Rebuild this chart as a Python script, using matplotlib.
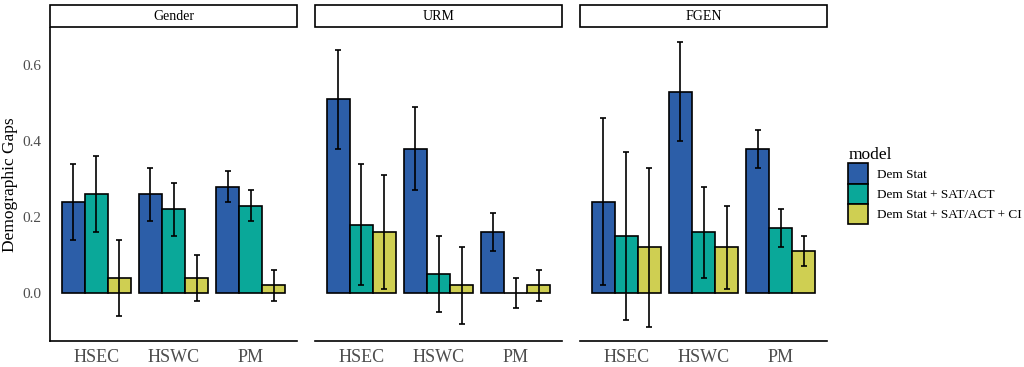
import matplotlib
matplotlib.use("Agg")
import matplotlib.pyplot as plt
import matplotlib.patches as mpatches
import numpy as np

plt.rcParams["font.family"] = ["Liberation Serif", "DejaVu Serif"]

panels = ["Gender", "URM", "FGEN"]
categories = ["HSEC", "HSWC", "PM"]
models = ["Dem Stat", "Dem Stat + SAT/ACT", "Dem Stat + SAT/ACT + CI"]
colors = ["#2C5EA8", "#0AA899", "#CFCF52"]

# gap estimates: [panel][model][category]
gender_vals = [[0.24, 0.26, 0.28], [0.26, 0.22, 0.23], [0.04, 0.04, 0.02]]
gender_lo = [[0.14, 0.19, 0.24], [0.16, 0.15, 0.19], [-0.06, -0.02, -0.02]]
gender_hi = [[0.34, 0.33, 0.32], [0.36, 0.29, 0.27], [0.14, 0.10, 0.06]]

urm_vals = [[0.51, 0.38, 0.16], [0.18, 0.05, 0.00], [0.16, 0.02, 0.02]]
urm_lo = [[0.38, 0.27, 0.11], [0.02, -0.05, -0.04], [0.01, -0.08, -0.02]]
urm_hi = [[0.64, 0.49, 0.21], [0.34, 0.15, 0.04], [0.31, 0.12, 0.06]]

fgen_vals = [[0.24, 0.53, 0.38], [0.15, 0.16, 0.17], [0.12, 0.12, 0.11]]
fgen_lo = [[0.02, 0.40, 0.33], [-0.07, 0.04, 0.12], [-0.09, 0.01, 0.07]]
fgen_hi = [[0.46, 0.66, 0.43], [0.37, 0.28, 0.22], [0.33, 0.23, 0.15]]

data = {
    "Gender": (gender_vals, gender_lo, gender_hi),
    "URM": (urm_vals, urm_lo, urm_hi),
    "FGEN": (fgen_vals, fgen_lo, fgen_hi),
}

W, H = 1024, 367
fig = plt.figure(figsize=(W / 100, H / 100), dpi=100)

lefts = [50, 315, 580]
pw = 247
top, bottom = 28, 341
x = np.arange(1, 4)
bw = 0.9 / 3

for k, (name, left) in enumerate(zip(panels, lefts)):
    ax = fig.add_axes([left / W, (H - bottom) / H, pw / W, (bottom - top) / H])
    vals, lo, hi = data[name]
    for m in range(3):
        xs = x + (m - 1) * bw
        v = np.array(vals[m])
        ax.bar(xs, v, width=bw, color=colors[m], edgecolor="black", linewidth=1.2, zorder=2)
        ax.errorbar(xs, v, yerr=[v - np.array(lo[m]), np.array(hi[m]) - v], fmt="none",
                    ecolor="black", elinewidth=1.2, capsize=2.5, capthick=1.2, zorder=3)
    ax.set_xlim(0.4, 3.6)
    ax.set_ylim(-0.126, 0.697)
    ax.set_xticks(x)
    ax.set_xticklabels(categories, fontsize=13, color="#4d4d4d")
    ax.tick_params(axis="both", length=0, pad=6)
    for s in ["top", "right"]:
        ax.spines[s].set_visible(False)
    ax.spines["bottom"].set_linewidth(1.2)
    if k == 0:
        ax.set_yticks([0.0, 0.2, 0.4, 0.6])
        ax.set_yticklabels(["0.0", "0.2", "0.4", "0.6"], fontsize=11, color="#4d4d4d")
        ax.spines["left"].set_linewidth(1.2)
        ax.set_ylabel("Demographic Gaps", fontsize=12.5, va="center")
        ax.yaxis.set_label_coords(-40 / pw, 0.5)
    else:
        ax.spines["left"].set_visible(False)
        ax.set_yticks([])
    # facet strip
    gap = 1 / (bottom - top)
    strip_h = 22 / (bottom - top)
    ax.add_patch(mpatches.Rectangle((0, 1 + gap), 1, strip_h, transform=ax.transAxes,
                                    facecolor="white", edgecolor="black", linewidth=1.2,
                                    clip_on=False))
    ax.text(0.5, 1 + gap + strip_h / 2, name, transform=ax.transAxes, ha="center",
            va="center", fontsize=10)

handles = [mpatches.Patch(facecolor=c, edgecolor="black", linewidth=1.2) for c in colors]
fig.legend(handles, models, title="model", loc="upper left",
           bbox_to_anchor=(843 / W, 1 - 142 / H), frameon=False, fontsize=9.5,
           title_fontsize=12.5, handlelength=1.5, handleheight=2.0, handletextpad=0.68,
           labelspacing=0.0, alignment="left", borderaxespad=0)

fig.savefig("out.png", dpi=100)
